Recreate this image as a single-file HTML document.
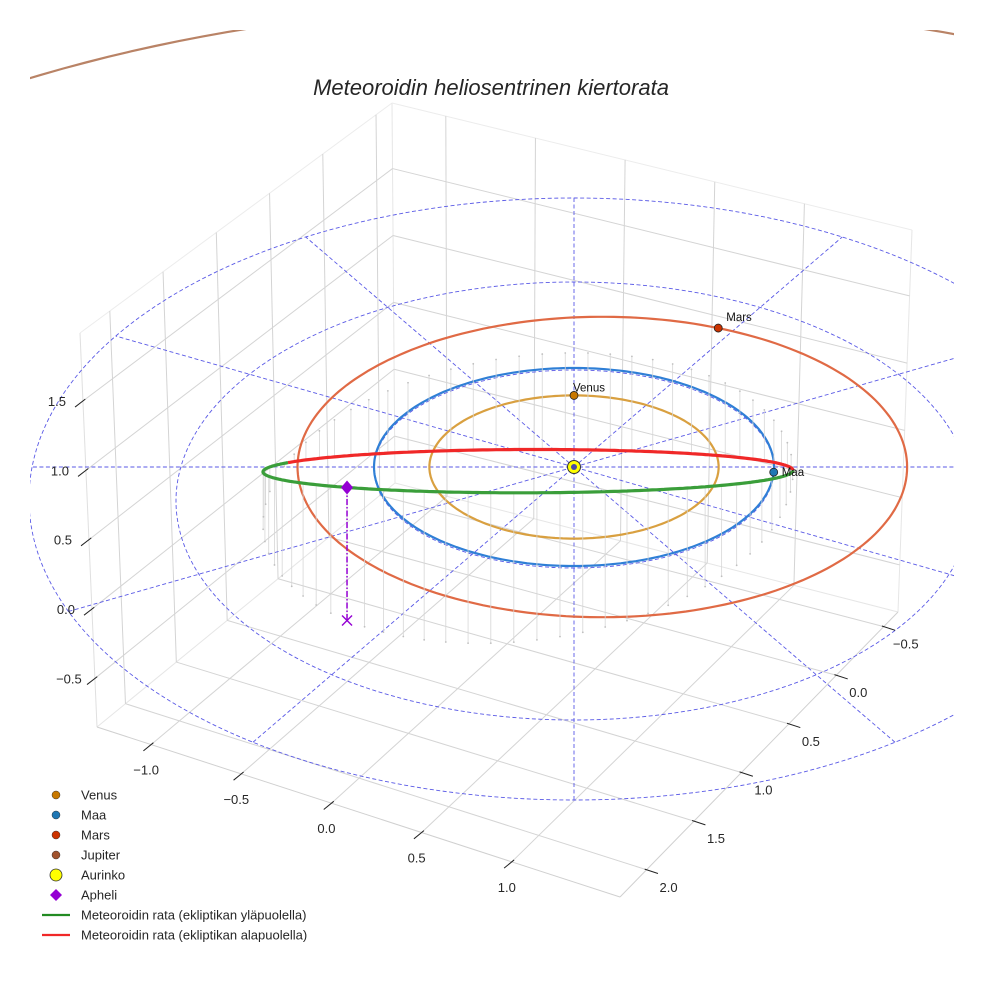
<!DOCTYPE html>
<html><head><meta charset="utf-8"><title>Meteoroidin heliosentrinen kiertorata</title>
<style>
html,body{margin:0;padding:0;background:#fff;}
svg{display:block;font-family:"Liberation Sans",sans-serif;}
</style></head>
<body>
<svg id="chart" width="984" height="984" viewBox="0 0 984 984" xmlns="http://www.w3.org/2000/svg">
<defs><clipPath id="clip"><rect x="30" y="30" width="924" height="924"/></clipPath></defs>
<rect width="984" height="984" fill="#fff"/>
<g id="box"></g>
<g id="plot" clip-path="url(#clip)"></g>
<g id="ticks"></g>
<text x="491" y="95" text-anchor="middle" font-size="22" font-style="italic" fill="#262626">Meteoroidin heliosentrinen kiertorata</text>
<g id="legend"></g>
</svg>
<script>
// ---- data ----
const xTicks = [-1.0, -0.5, 0.0, 0.5, 1.0];
const yTicks = [-0.5, 0.0, 0.5, 1.0, 1.5, 2.0];
const zTicks = [-0.5, 0.0, 0.5, 1.0, 1.5];
const xLim = [-1.3, 1.6];
const yLim = [-0.65, 2.28];
const zLim = [-0.85, 1.99];
const planetNames = ["Venus", "Maa", "Mars", "Jupiter"];
const planetA = [0.723, 1.0, 1.524, 5.2];
const planetE = [0.0, 0.0, 0.093, 0.0];
const planetAngleDeg = [-90, 3, -62.8, -100];
const meteorA = [0.905, -1.236, -0.763];
const meteorB = [0.968, 0.79, 0.46];
const meteorE = [0.254];
const guideAnglesDeg = [0, 30, 60, 90, 120, 150];

const NS = "http://www.w3.org/2000/svg";
const box = document.getElementById('box');
const plot = document.getElementById('plot');
const ticks = document.getElementById('ticks');
const legend = document.getElementById('legend');
function mk(tag, attrs, parent){
  const el = document.createElementNS(NS, tag);
  for (const k in attrs) el.setAttribute(k, attrs[k]);
  parent.appendChild(el);
  return el;
}
const SX = 574, SY = 467, KU = 200, KV = 99, KZ = 139;
function proj(u, v, z){ return [SX + KU*u, SY + KV*v - KZ*z]; }
function ptsStr(arr){ return arr.map(p => p[0].toFixed(1)+','+p[1].toFixed(1)).join(' '); }

// ---- box ----
const Dbot=[395,483], Cbot=[898,612], Abot=[97,727], Bbot=[620,897];
const Dtop=[392,103], Ctop=[912,230], Atop=[80,333];
function lerp(p,q,t){ return [p[0]+(q[0]-p[0])*t, p[1]+(q[1]-p[1])*t]; }
function bil(P00,P10,P01,P11,a,b){ return lerp(lerp(P00,P10,a), lerp(P01,P11,a), b); }
const tx = x => (x - xLim[0])/(xLim[1]-xLim[0]);
const ty = y => (y - yLim[0])/(yLim[1]-yLim[0]);
const tz = z => (z - zLim[0])/(zLim[1]-zLim[0]);
function gline(p, q, name, stroke, w){
  const l = mk('line', {x1:p[0], y1:p[1], x2:q[0], y2:q[1], stroke: stroke||'#d4d4d4', 'stroke-width': w||1}, box);
  
  
  return l;
}
gline(Dbot, Cbot, 'floor-back-edge', '#e6e6e6');
gline(Dbot, Abot, 'floor-left-edge', '#e6e6e6');
gline(Dbot, Dtop, 'back-corner-edge', '#e6e6e6');
gline(Dtop, Ctop, 'back-wall-top-edge', '#ececec');
gline(Dtop, Atop, 'left-wall-top-edge', '#ececec');
gline(Cbot, Ctop, 'back-wall-right-edge', '#e6e6e6');
gline(Abot, Atop, 'left-wall-left-edge', '#e0e0e0');
gline(Abot, Bbot, 'x-axis-line', '#d0d0d0');
gline(Bbot, Cbot, 'y-axis-line', '#d0d0d0');
xTicks.forEach(x => { const a=tx(x); gline(bil(Dbot,Cbot,Abot,Bbot,a,0), bil(Dbot,Cbot,Abot,Bbot,a,1), 'floor-grid-x'); });
yTicks.forEach(y => { const b=ty(y); gline(bil(Dbot,Cbot,Abot,Bbot,0,b), bil(Dbot,Cbot,Abot,Bbot,1,b), 'floor-grid-y'); });
yTicks.forEach(y => { const a=ty(y); gline(bil(Dbot,Abot,Dtop,Atop,a,0), bil(Dbot,Abot,Dtop,Atop,a,1), 'left-wall-grid-y'); });
zTicks.forEach(z => { const b=tz(z); gline(bil(Dbot,Abot,Dtop,Atop,0,b), bil(Dbot,Abot,Dtop,Atop,1,b), 'left-wall-grid-z'); });
xTicks.forEach(x => { const a=tx(x); gline(bil(Dbot,Cbot,Dtop,Ctop,a,0), bil(Dbot,Cbot,Dtop,Ctop,a,1), 'back-wall-grid-x'); });
zTicks.forEach(z => { const b=tz(z); gline(bil(Dbot,Cbot,Dtop,Ctop,0,b), bil(Dbot,Cbot,Dtop,Ctop,1,b), 'back-wall-grid-z'); });

// ---- ticks ----
function tickText(x, y, s, name){
  const t = mk('text', {x:x, y:y, 'font-size':13, fill:'#262626', 'text-anchor':'middle'}, ticks);
  t.textContent = s;
  
  
}
function fmt(v){ return (v<0?'\u2212':'') + Math.abs(v).toFixed(1); }
function tickMark(p, d, a, b, name){
  const l = mk('line', {x1:p[0]+d[0]*a, y1:p[1]+d[1]*a, x2:p[0]+d[0]*b, y2:p[1]+d[1]*b, stroke:'#222', 'stroke-width':1}, ticks);
  
  
}
xTicks.forEach(x => {
  const p = lerp(Abot, Bbot, tx(x));
  tickMark(p, [0.77,-0.63], -10, 3, 'x-tick');
  tickText(p[0]-5, p[1]+30, fmt(x), 'x-tick-label');
});
yTicks.forEach(y => {
  const p = lerp(Cbot, Bbot, ty(y));
  tickMark(p, [0.95,0.31], -2, 12, 'y-tick');
  tickText(p[0]+22, p[1]+22, fmt(y), 'y-tick-label');
});
zTicks.forEach(z => {
  const p = lerp(Abot, Atop, tz(z));
  tickMark(p, [0.79,-0.61], -10, 3, 'z-tick');
  tickText(p[0]-26, p[1]+5, fmt(z), 'z-tick-label');
});

// ---- guide lines ----
const guideColor = '#5a5ae6';
function guideEllipse(cx, cy, rx, ry, name){
  const e = mk('ellipse', {cx:cx, cy:cy, rx:rx, ry:ry, fill:'none', stroke:guideColor, 'stroke-width':0.9, 'stroke-dasharray':'4,2.5'}, plot);
  
  
}
guideEllipse(574, 499, 545, 301, 'guide-circle-outer');
guideEllipse(574, 501, 398, 219, 'guide-circle-middle');
guideEllipse(SX, SY+2, KU*1.0, KV*1.0, 'guide-circle-inner');
guideAnglesDeg.forEach(deg => {
  const th = deg*Math.PI/180;
  const dx = KU*Math.cos(th), dy = KV*Math.sin(th);
  const ends = [1,-1].map(s => {
    const ux = s*dx, uy = s*dy;
    const A = (ux*ux)/(545*545) + (uy*uy)/(301*301);
    const B = 2*((SX-574)*ux/(545*545) + (SY-499)*uy/(301*301));
    const C = ((SX-574)**2)/(545*545) + ((SY-499)**2)/(301*301) - 1;
    const t = (-B + Math.sqrt(B*B-4*A*C))/(2*A);
    return [SX+ux*t, SY+uy*t];
  });
  const l = mk('line', {x1:ends[0][0], y1:ends[0][1], x2:ends[1][0], y2:ends[1][1], stroke:guideColor, 'stroke-width':0.9, 'stroke-dasharray':'4,2.5'}, plot);
  
  
});

// ---- planet orbits ----
const orbitColors = ['#d9a040', '#2f7fd6', '#e06a45', '#b98366'];
const dotColors = ['#c87800', '#1f77b4', '#cc3300', '#a0522d'];
function orbitR(i, th){
  const a = planetA[i], e = planetE[i];
  return a*(1-e*e)/(1 + e*Math.cos(th - Math.PI));
}
for (let i = 0; i < 4; i++){
  const pts = [];
  if (i === 3){
    for (let k = 0; k <= 120; k++){
      const th = Math.PI + k/120*Math.PI;
      const r = orbitR(i, th);
      pts.push([585 + 192*r*Math.cos(th), 452 + 86.5*r*Math.sin(th)]);
    }
  } else {
    for (let k = 0; k <= 240; k++){
      const th = k/240*2*Math.PI;
      const r = orbitR(i, th);
      pts.push(proj(r*Math.cos(th), r*Math.sin(th), 0));
    }
  }
  const pl = mk('polyline', {points: ptsStr(pts), fill:'none', stroke: orbitColors[i], 'stroke-width': 2.2}, plot);
  
  
}

// ---- meteoroid orbit ----
function meteorPt(E){
  const e = meteorE[0];
  const c = Math.cos(E), s = Math.sin(E);
  return [0,1,2].map(j => -e*meteorA[j] + meteorA[j]*c + meteorB[j]*s);
}
for (let k = 0; k < 72; k++){
  const E = k/72*2*Math.PI;
  const P = meteorPt(E);
  const p1 = proj(P[0], P[1], P[2]), p0 = proj(P[0], P[1], 0);
  const l = mk('line', {x1:p1[0], y1:p1[1], x2:p0[0], y2:p0[1], stroke:'#d6d6d6', 'stroke-width':0.8}, plot);
  
  
  const d = mk('circle', {cx:p0[0], cy:p0[1], r:0.9, fill:'#c0c0c0'}, plot);
  
  
}
let seg = [], segAbove = null;
function flush(){
  if (seg.length > 1){
    const pl = mk('polyline', {points: ptsStr(seg), fill:'none', stroke: segAbove ? '#3a9e3a' : '#f02828', 'stroke-width': 3.2, 'stroke-linejoin':'round'}, plot);
    
    
  }
}
for (let k = 0; k <= 360; k++){
  const E = k/360*2*Math.PI;
  const P = meteorPt(E);
  const above = P[2] >= 0;
  const sp = proj(P[0], P[1], P[2]);
  if (segAbove === null) segAbove = above;
  if (above !== segAbove){ seg.push(sp); flush(); seg = [sp]; segAbove = above; }
  else seg.push(sp);
}
flush();

const aph = meteorPt(Math.PI);
const ap = proj(aph[0], aph[1], aph[2]), ap0 = proj(aph[0], aph[1], 0);
let el = mk('line', {x1:ap[0], y1:ap[1], x2:ap0[0], y2:ap0[1], stroke:'#9400d3', 'stroke-width':1.5, 'stroke-dasharray':'6,2,1.5,2'}, plot);


el = mk('path', {d:`M${ap0[0]-5},${ap0[1]-5}L${ap0[0]+5},${ap0[1]+5}M${ap0[0]-5},${ap0[1]+5}L${ap0[0]+5},${ap0[1]-5}`, stroke:'#9400d3', 'stroke-width':1.4, fill:'none'}, plot);


el = mk('path', {d:`M${ap[0]},${ap[1]-7}L${ap[0]+6},${ap[1]}L${ap[0]},${ap[1]+7}L${ap[0]-6},${ap[1]}Z`, fill:'#9400d3'}, plot);



for (let i = 0; i < 3; i++){
  const th = planetAngleDeg[i]*Math.PI/180;
  const r = orbitR(i, th);
  const p = proj(r*Math.cos(th), r*Math.sin(th), 0);
  const c = mk('circle', {cx:p[0], cy:p[1], r:4, fill:dotColors[i], stroke:'#222', 'stroke-width':0.8}, plot);
  
  
  const t = mk('text', {x: p[0] + (i===0 ? -1 : 8), y: p[1] + (i===0 ? -4 : (i===1 ? 4 : -7)), 'font-size':11.5, fill:'#111'}, plot);
  t.textContent = planetNames[i];
  
  
}
const sp = proj(0,0,0);
el = mk('circle', {cx:sp[0], cy:sp[1], r:6.5, fill:'#ffff00', stroke:'#333', 'stroke-width':1}, plot);


el = mk('circle', {cx:sp[0], cy:sp[1], r:3, fill:'#4a4aa8'}, plot);



// ---- legend ----
const legendLabels = ["Venus","Maa","Mars","Jupiter","Aurinko","Apheli","Meteoroidin rata (ekliptikan yläpuolella)","Meteoroidin rata (ekliptikan alapuolella)"];
legendLabels.forEach((lab, i) => {
  const y = 795 + i*20;
  const g = mk('g', {}, legend);
  
  
  if (i < 4) mk('circle', {cx:56, cy:y, r:4, fill:dotColors[i], stroke:'#333', 'stroke-width':0.5}, g);
  else if (i === 4) mk('circle', {cx:56, cy:y, r:6, fill:'#ffff00', stroke:'#333', 'stroke-width':0.8}, g);
  else if (i === 5) mk('path', {d:`M56,${y-6}L62,${y}L56,${y+6}L50,${y}Z`, fill:'#9400d3'}, g);
  else mk('line', {x1:42, y1:y, x2:70, y2:y, stroke: i===6 ? '#228b22' : '#f02828', 'stroke-width':2.2}, g);
  const t = mk('text', {x:81, y:y+4.5, 'font-size':13, fill:'#262626'}, g);
  t.textContent = lab;
});
</script>
</body></html>
